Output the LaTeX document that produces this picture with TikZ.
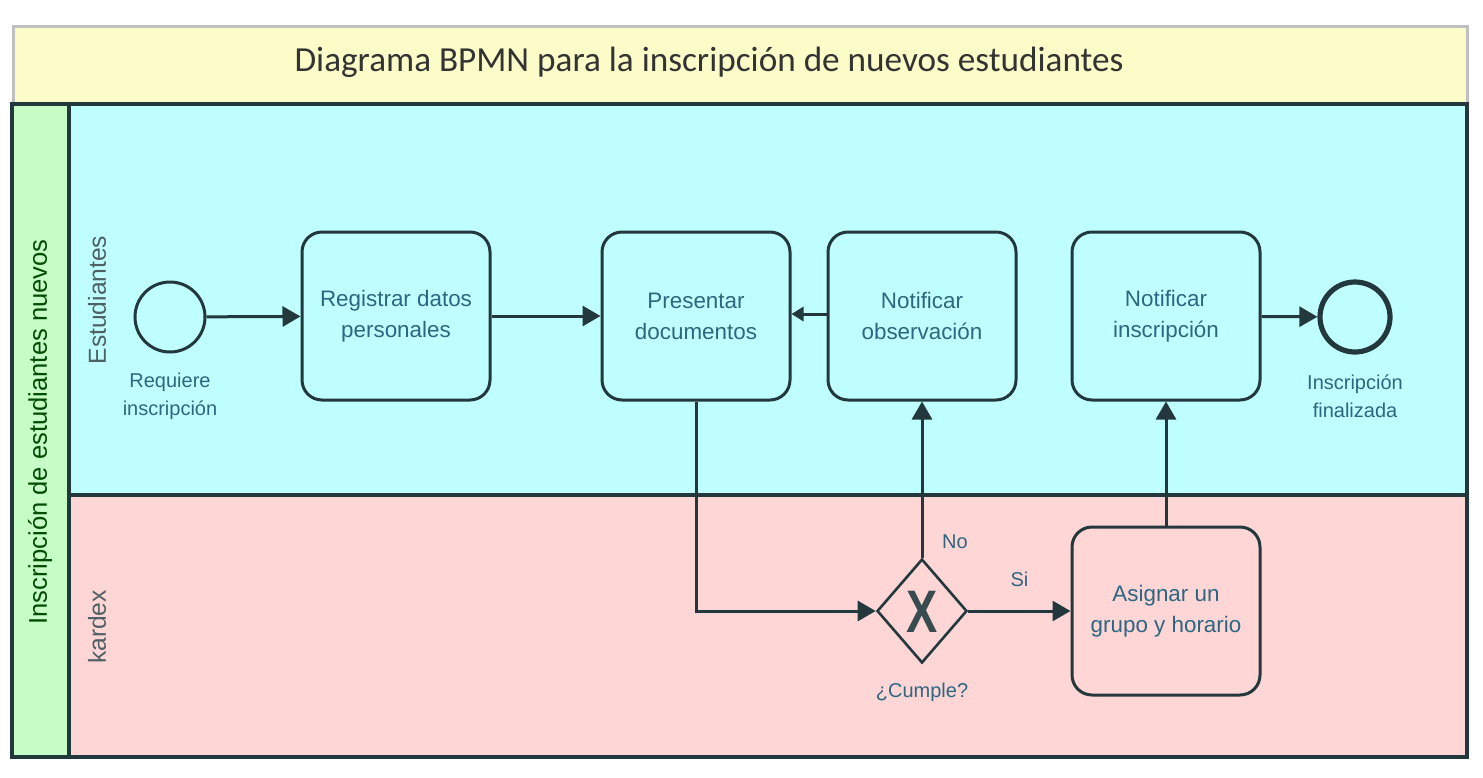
\documentclass[tikz,border=0pt]{standalone}
\usepackage{fontspec}
\setmainfont{Liberation Sans}
\newfontfamily\titlefont{Carlito}
\usetikzlibrary{arrows.meta,shapes.geometric}
\definecolor{lnc}{HTML}{22383C}
\definecolor{txc}{HTML}{2C6680}
\definecolor{ttl}{HTML}{FBFCC8}
\definecolor{grn}{HTML}{C6FCC6}
\definecolor{cya}{HTML}{BFFFFF}
\definecolor{pnk}{HTML}{FFD6D6}
\begin{document}
\begin{tikzpicture}[x=0.5pt,y=-0.5pt,
  task/.style={draw=lnc,line width=1.5pt,rounded corners=10pt,minimum width=94pt,minimum height=84pt,align=center,font=\fontsize{11.2}{15.5}\selectfont,text=txc,inner sep=0pt},
  evlabel/.style={font=\fontsize{10}{14}\selectfont,text=txc,align=center},
  flow/.style={draw=lnc,line width=1.5pt,-{Triangle[length=9pt,width=10pt]}},
  lanelabel/.style={rotate=90,font=\fontsize{12.3}{14}\selectfont,text=lnc!80}
]
\useasboundingbox (0,0) rectangle (1483,777);
\fill[white] (0,0) rectangle (1483,777);
% title band
\node[draw=black!25,line width=1.5pt,fill=ttl,minimum width=727pt,minimum height=39pt,inner sep=0pt,anchor=north west] (title) at (12,25) {};
\node[font=\titlefont\fontsize{17.6}{19}\selectfont,text=black!80] (titletext) at (709,62) {Diagrama BPMN para la inscripción de nuevos estudiantes};
% lanes
\fill[cya] (69,104) rectangle (1467,495);
\fill[pnk] (69,495) rectangle (1467,757);
\fill[grn] (12,104) rectangle (69,757);
\draw[lnc,line width=1.8pt] (12,104) rectangle (1467,757);
\draw[lnc,line width=1.8pt] (69,104) -- (69,757);
\draw[lnc,line width=1.8pt] (69,495) -- (1467,495);
\node[lanelabel,text=black!70!green,font=\fontsize{12.8}{14}\selectfont] (pool) at (40,432) {Inscripción de estudiantes nuevos};
\node[lanelabel] (lane1) at (97,300) {Estudiantes};
\node[lanelabel] (lane2) at (97,627) {kardex};
% events
\node[circle,draw=lnc,line width=1.5pt,minimum size=35pt,inner sep=0pt] (start) at (170,317) {};
\node[evlabel] (startlbl) at (170,396) {Requiere\\inscripción};
\node[circle,draw=lnc,line width=2.6pt,minimum size=35pt,inner sep=0pt] (end) at (1355,317) {};
\node[evlabel] (endlbl) at (1355,396) {Inscripción\\finalizada};
% tasks
\node[task] (t1) at (396,316) {Registrar datos\\personales};
\node[task] (t2) at (696,316) {Presentar\\documentos};
\node[task] (t3) at (922,316) {Notificar\\observación};
\node[task] (t4) at (1166,316) {Notificar\\inscripción};
\node[task] (t5) at (1166,611) {Asignar un\\grupo y horario};
% gateway
\node[diamond,draw=lnc,line width=1.3pt,minimum width=45pt,minimum height=52pt,inner sep=0pt] (gw) at (922,611) {};
\node[font=\fontsize{30}{30}\selectfont\bfseries,text=lnc!90,xscale=0.78] (gwx) at (922,612) {X};
\node[evlabel] (gwlbl) at (922,692) {¿Cumple?};
% flows
\draw[flow] (start) -- (t1);
\draw[flow] (t1) -- (t2);
\draw[draw=lnc,line width=1.5pt,-{Triangle[length=6pt,width=7pt]}] (t3.west |- 0,314) -- (t2.east |- 0,314);
\draw[flow] (t2.south) -- (t2.south |- gw.west) -- (gw.west);
\draw[flow] (gw.north) -- node[pos=0.1,right=6pt,evlabel] (nolbl) {No} (t3.south);
\draw[flow] (gw.east) -- node[above=8pt,evlabel,pos=0.5] (silbl) {Si} (t5.west);
\draw[flow] (t5.north) -- (t4.south);
\draw[flow] (t4) -- (end);
\end{tikzpicture}
\end{document}
